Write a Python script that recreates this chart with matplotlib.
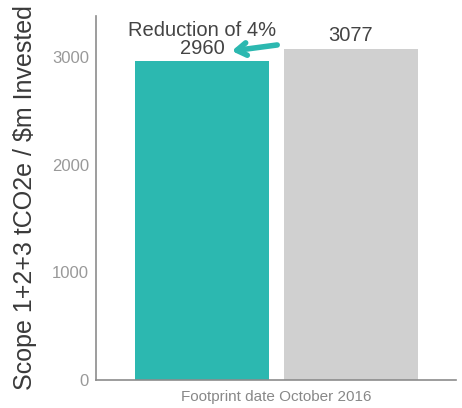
import matplotlib
matplotlib.use("Agg")
import matplotlib.pyplot as plt

plt.rcParams['font.family'] = ['Liberation Sans', 'DejaVu Sans']

categories = ["Fund", "Benchmark"]
values = [2960, 3077]
colors = ["#2cb8b0", "#d0d0d0"]
yticks = [0, 1000, 2000, 3000]
annotation = "Reduction of 4%"

fig = plt.figure(figsize=(4.62, 4.08), dpi=100)
ax = fig.add_axes([0.2078, 0.0686, 0.7792, 0.8922])

x = list(range(len(categories)))
ax.bar(x, values, width=0.9, color=colors)
ax.set_xlim(-0.711, 1.705)
ax.set_ylim(0, 3380)
ax.set_yticks(yticks)
ax.set_yticklabels([str(t) for t in yticks], color="#999999", fontsize=12)
ax.set_xticks([])
ax.tick_params(axis='y', length=0, pad=5)
for s in ["top", "right"]:
    ax.spines[s].set_visible(False)
for s in ["left", "bottom"]:
    ax.spines[s].set_color("#8c8c8c")
    ax.spines[s].set_linewidth(1.2)

ax.set_ylabel("Scope 1+2+3 tCO2e / $m Invested", fontsize=18, color="#3a3a3a", labelpad=11)
ax.set_xlabel("Footprint date October 2016", fontsize=11, color="#888888", labelpad=7)

ax.text(x[0], 3027, str(values[0]), ha="center", va="baseline", fontsize=14.5, color="#444444")
ax.text(x[1], 3148, str(values[1]), ha="center", va="baseline", fontsize=14.5, color="#444444")
ax.text(x[0], 3194, annotation, ha="center", va="baseline", fontsize=14.5, color="#444444")

ax.annotate("", xy=(x[0] + 0.2, 3055), xytext=(x[0] + 0.505, 3111),
            arrowprops=dict(arrowstyle="->,head_length=0.7,head_width=0.45", color="#2cb8b0", lw=4,
                            shrinkA=0, shrinkB=0))

fig.savefig("out.png", dpi=100)
